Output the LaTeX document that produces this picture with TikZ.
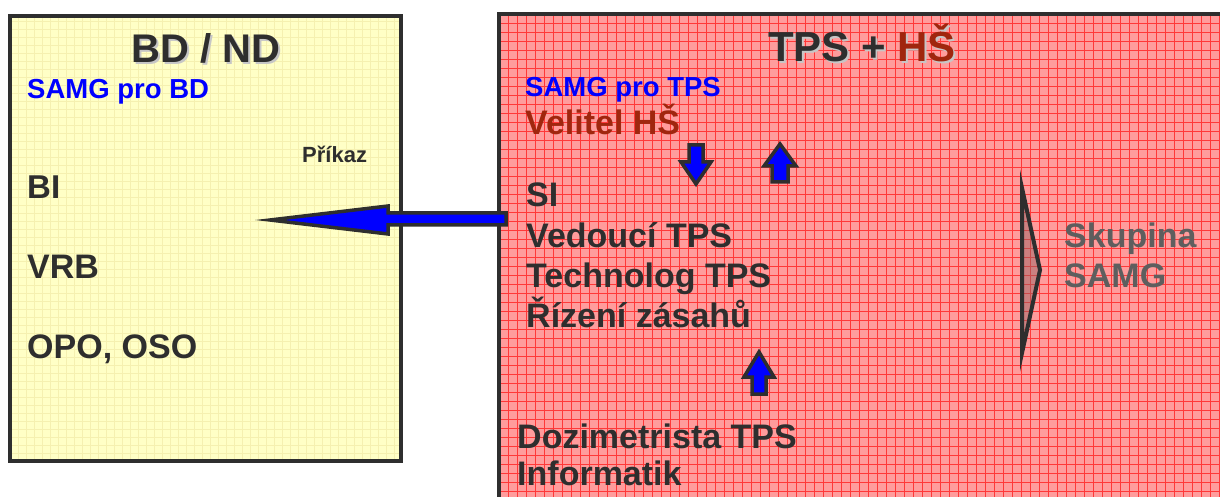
\documentclass[tikz,border=0pt]{standalone}
\usepackage{fontspec}
\setmainfont{Liberation Sans}
\usepackage{xcolor}

\definecolor{darktext}{HTML}{2E2E2E}
\definecolor{hsred}{HTML}{A0260E}
\definecolor{skgray}{HTML}{5E5E5E}
\definecolor{bdfill}{HTML}{FFFFC6}
\definecolor{bdgrid}{HTML}{F5F0B0}
\definecolor{tpsfill}{HTML}{FF9C9C}
\definecolor{tpsgrid}{HTML}{FF3838}
\definecolor{samgblue}{HTML}{0000FF}
\definecolor{chevfill}{HTML}{906060}

\tikzset{
  txt/.style={anchor=base west, inner sep=0pt, text=darktext,
    font=\fontsize{#1}{#1}\selectfont\bfseries},
  title/.style={anchor=base, inner sep=0pt, text=darktext,
    font=\fontsize{#1}{#1}\selectfont\bfseries},
  boxline/.style={draw=darktext, line width=4pt},
  blockarrow/.style={draw=darktext, line width=3.5pt, fill=samgblue, line join=miter}
}

\begin{document}
\begin{tikzpicture}[x=1pt,y=1pt]
  \clip (0,0) rectangle (1220,496);

  % BD / ND box
  \begin{scope}
    \clip (10,35) rectangle (401,480);
    \fill[bdfill] (10,35) rectangle (401,480);
    \foreach \x in {10,18,...,402}
      \draw[bdgrid, line width=0.6pt] (\x,35) -- (\x,480);
    \foreach \y in {35,43,...,481}
      \draw[bdgrid, line width=0.6pt] (10,\y) -- (401,\y);
  \end{scope}
  \draw[boxline] (10,35) rectangle (401,480);

  % TPS + HS box
  \begin{scope}
    \clip (499,-10) rectangle (1230,482);
    \fill[tpsfill] (499,-10) rectangle (1230,482);
    \foreach \x in {499,508,...,1230}
      \draw[tpsgrid, line width=0.5pt] (\x,-10) -- (\x,482);
    \foreach \y in {482,473,...,-10}
      \draw[tpsgrid, line width=0.5pt] (499,\y) -- (1230,\y);
  \end{scope}
  \draw[boxline, line width=3.5pt] (1230,482) -- (499,482) -- (499,-10);

  % left texts
  \node[title=40, text=gray!45] (bdshadow) at (208,431) {BD / ND};
  \node[title=40] (bdtitle) at (206,433) {BD / ND};
  \node[txt=27.5, text=samgblue] (samgbd) at (27,397) {SAMG pro BD};
  \node[txt=22] (prikaz) at (302,333) {Příkaz};
  \node[txt=33] (bi) at (27,298) {BI};
  \node[txt=34] (vrb) at (27,218) {VRB};
  \node[txt=34] (opo) at (27,138) {OPO, OSO};

  % right texts
  \node[title=42, text=gray!45] (tpsshadow) at (864,432) {TPS + HŠ};
  \node[title=42] (tpstitle) at (862,434) {TPS + \textcolor{hsred}{HŠ}};
  \node[txt=27.5, text=samgblue] (samgtps) at (525,399) {SAMG pro TPS};
  \node[txt=34, text=hsred] (velitel) at (525,361) {Velitel HŠ};
  \node[txt=34] (si) at (526,289) {SI};
  \node[txt=34] (vedouci) at (526,249) {Vedoucí TPS};
  \node[txt=34] (technolog) at (526,209) {Technolog TPS};
  \node[txt=34] (rizeni) at (526,169) {Řízení zásahů};
  \node[txt=34] (dozimetr) at (517,48) {Dozimetrista TPS};
  \node[txt=34] (informatik) at (517,11) {Informatik};
  \node[txt=34, text=skgray] (skupina) at (1064,249) {Skupina};
  \node[txt=34, text=skgray] (samggrp) at (1064,209) {SAMG};

  % block arrows
  \draw[blockarrow] (270,276) -- (388,290) -- (388,283) -- (506,283)
    -- (506,271) -- (388,271) -- (388,262) -- cycle;
  \draw[blockarrow] (689,351) -- (703,351) -- (703,334) -- (711,334)
    -- (696,312) -- (681,334) -- (689,334) -- cycle;
  \draw[blockarrow] (772,314) -- (788,314) -- (788,330) -- (796,330)
    -- (780,352) -- (764,330) -- (772,330) -- cycle;
  \draw[blockarrow] (752,102) -- (766,102) -- (766,119) -- (774,119)
    -- (759,144) -- (744,119) -- (752,119) -- cycle;

  % chevron
  \draw[draw=darktext, line width=4pt, fill=chevfill, fill opacity=0.45, line join=miter]
    (1022,308) -- (1040,226) -- (1022,143) -- cycle;
\end{tikzpicture}
\end{document}
